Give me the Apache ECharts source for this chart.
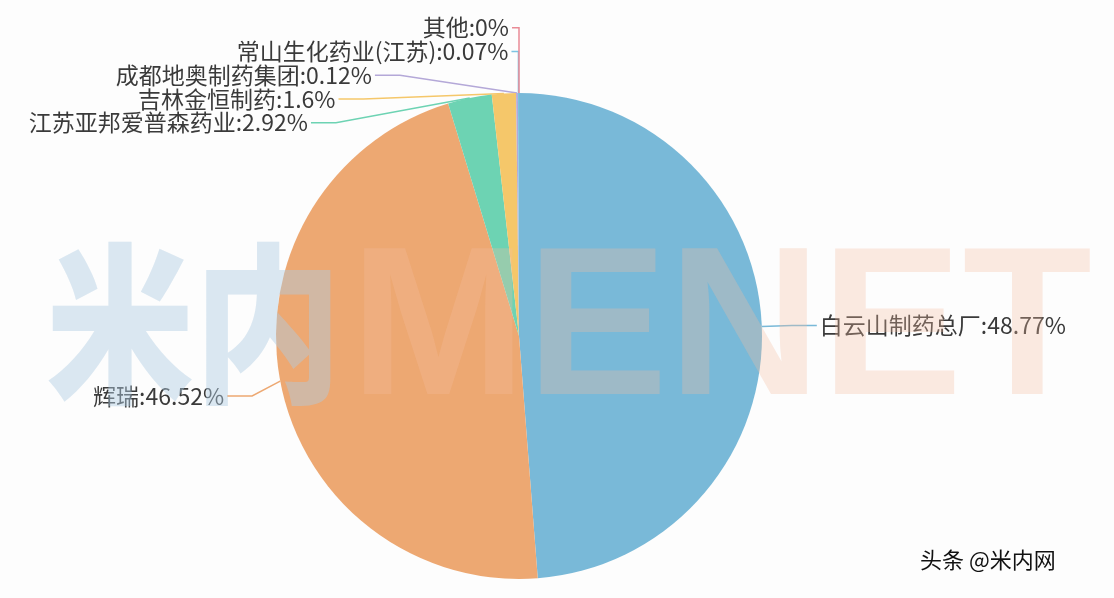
<!DOCTYPE html>
<html>
<head>
<meta charset="utf-8">
<script src="https://cdn.jsdelivr.net/npm/echarts@6/dist/echarts.min.js"></script>
<style>
html,body{margin:0;padding:0;background:#fdfdfd;}
#c{width:1114px;height:598px;}
</style>
</head>
<body>
<div id="c"></div>
<script>
const names = ['白云山制药总厂','辉瑞','江苏亚邦爱普森药业','吉林金恒制药','成都地奥制药集团','常山生化药业(江苏)','其他'];
const values = [48.77, 46.52, 2.92, 1.6, 0.12, 0.07, 0];
const colors = ['#79b9d8','#eda872','#6dd3b3','#f5c76a','#b4a8d8','#7cc3e2','#e98b96'];

// pie geometry and label-line settings
const CX = 519, CY = 336, R = 243;
const LEN = 30, LEN2 = 25, LABEL_H = 23.75, GAP = 3;
const VIEW_H = 598;

// Classic (v4 style) outer-label layout: stack labels per side, then place them on a circle
function buildLabelLayout() {
  const total = values.reduce((a, b) => a + b, 0);
  let acc = 0;
  const items = values.map((v, i) => {
    const mid = (acc + v / 2) / total * Math.PI * 2;  // clockwise from top
    acc += v;
    const s = Math.sin(mid), c = Math.cos(mid);
    const side = mid > Math.PI ? -1 : 1;
    return {
      idx: i, side,
      edge: [CX + R * s, CY - R * c],
      y: CY - (R + LEN) * c,
      h: LABEL_H
    };
  });
  function adjust(list) {
    list.sort((a, b) => a.y - b.y);
    function shiftUp(end, delta) {
      for (let j = end; j >= 0; j--) {
        if (list[j].y - delta < 0) break;
        list[j].y -= delta;
        if (j > 0 && list[j].y > list[j - 1].y + list[j - 1].h) break;
      }
    }
    function shiftDown(start, end, delta) {
      for (let j = start; j < end; j++) {
        if (list[j].y + delta > VIEW_H) break;
        list[j].y += delta;
        if (j > start && j + 1 < end && list[j + 1].y > list[j].y + list[j].h) {
          shiftUp(j, delta / 2);
          return;
        }
      }
      shiftUp(end - 1, delta / 2);
    }
    let lastY = 0;
    for (let i = 0; i < list.length; i++) {
      const d = list[i].y - lastY;
      if (d < 0) shiftDown(i, list.length, -d);
      lastY = list[i].y + list[i].h;
    }
  }
  adjust(items.filter(it => it.side < 0));
  adjust(items.filter(it => it.side > 0));
  const out = {};
  items.forEach(it => {
    const dy = Math.abs(it.y - CY);
    let bendX, endX;
    if (dy >= R + LEN) {
      bendX = it.edge[0];
      endX = bendX + it.side * 7;
    } else {
      const dx = Math.sqrt((R + LEN + LEN2) ** 2 - dy * dy);
      endX = CX + it.side * dx;
      bendX = endX - it.side * LEN2;
    }
    out[it.idx] = {
      x: endX + it.side * GAP,
      y: it.y,
      align: it.side < 0 ? 'right' : 'left',
      points: [it.edge, [bendX, it.y], [endX, it.y]]
    };
  });
  return out;
}
const labelPos = buildLabelLayout();

const chart = echarts.init(document.getElementById('c'));
chart.setOption({
  backgroundColor: '#fdfdfd',
  color: colors,
  graphic: [
    {type:'text', z:100, left:46, top:238, scaleX:0.86,
     style:{text:'米内', fontSize:172, fontWeight:900, fontFamily:'"Noto Sans CJK SC"', fill:'rgba(176,205,226,0.45)'}},
    {type:'text', z:100, left:350, top:230,
     style:{text:'MENET', fontSize:212, fontWeight:'bold', fontFamily:'"Liberation Sans"', fill:'rgba(245,190,160,0.3)'}},
    {type:'text', z:101, left:920, top:549,
     style:{text:'头条 @米内网', fontSize:22, fontFamily:'"Noto Sans CJK SC"', fill:'#111'}}
  ],
  series: [{
    type: 'pie',
    center: [CX, CY],
    radius: R,
    startAngle: 90,
    clockwise: true,
    avoidLabelOverlap: false,
    data: names.map((n, i) => ({name: n, value: values[i]})),
    label: {
      formatter: '{b}:{c}%',
      fontSize: 23,
      fontFamily: '"Noto Sans CJK SC"',
      color: '#3a3a3a'
    },
    labelLine: {length: LEN, length2: LEN2, lineStyle:{width:1.5}},
    labelLayout: function (p) {
      const L = labelPos[p.dataIndex];
      return {x: L.x, y: L.y, align: L.align, verticalAlign: 'middle', labelLinePoints: L.points};
    },
    itemStyle: {borderWidth: 0}
  }]
});
</script>
</body>
</html>
